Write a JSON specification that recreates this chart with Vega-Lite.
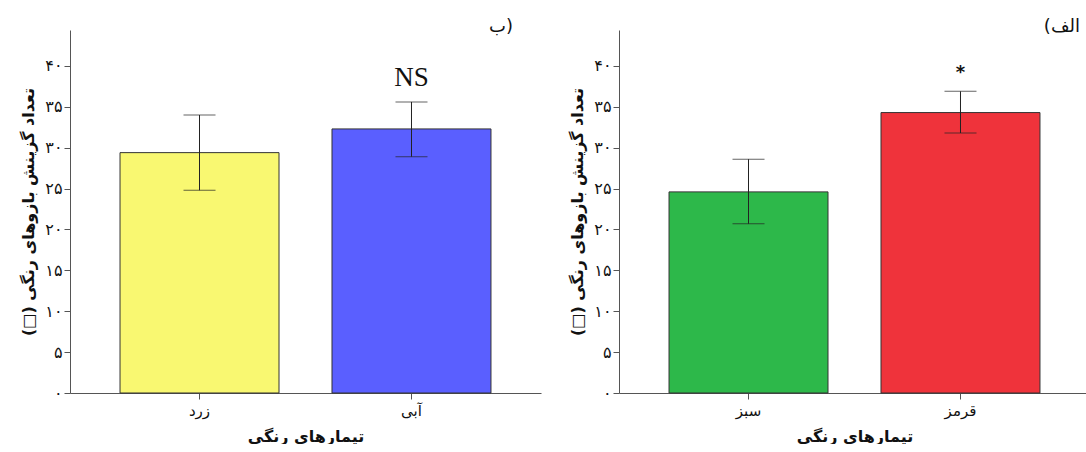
{
  "$schema": "https://vega.github.io/schema/vega-lite/v6.json",
  "background": "white",
  "padding": {"left": 20, "top": 18, "right": 0, "bottom": 0},
  "spacing": 28,
  "datasets": {
    "b": [
      {"cat": "زرد", "mean": 29.4, "lo": 24.8, "hi": 34.0, "color": "#F9F871", "ann": ""},
      {"cat": "آبی", "mean": 32.3, "lo": 28.9, "hi": 35.6, "color": "#5A5FFF", "ann": "NS"}
    ],
    "a": [
      {"cat": "سبز", "mean": 24.6, "lo": 20.7, "hi": 28.6, "color": "#2DB84A", "ann": ""},
      {"cat": "قرمز", "mean": 34.3, "lo": 31.8, "hi": 36.9, "color": "#EF333B", "ann": "*"}
    ]
  },
  "config": {
    "view": {"stroke": null},
    "font": "DejaVu Sans",
    "axis": {
      "domainColor": "#555",
      "tickColor": "#555",
      "labelColor": "#111",
      "titleColor": "#111",
      "grid": false,
      "labelFont": "DejaVu Sans",
      "titleFont": "DejaVu Sans"
    },
    "title": {"font": "DejaVu Sans", "fontSize": 18, "fontWeight": "normal", "color": "#111"}
  },
  "hconcat": [
    {
      "width": 471,
      "height": 363,
      "data": {"name": "b"},
      "title": {"text": "ب)", "anchor": "end", "dx": -28, "offset": -6},
      "encoding": {
        "x": {
          "field": "cat", "type": "nominal", "sort": ["زرد", "آبی"],
          "scale": {"paddingInner": 0.25, "paddingOuter": 0.236},
          "axis": {"title": "تیمارهای رنگی", "labelAngle": 0, "labelFontSize": 15, "titleFontSize": 16, "titleFontWeight": "bold", "tickSize": 6, "labelPadding": 4, "titlePadding": 10}
        }
      },
      "layer": [
        {
          "mark": {"type": "bar", "stroke": "#333", "strokeWidth": 1},
          "encoding": {
            "y": {
              "field": "mean", "type": "quantitative",
              "scale": {"domain": [0, 44.4], "nice": false},
              "axis": {
                "title": "(□) تعداد گزینش بازوهای رنگی",
                "values": [0, 5, 10, 15, 20, 25, 30, 35, 40],
                "labelExpr": "datum.value==0?'۰':datum.value==5?'۵':datum.value==10?'۱۰':datum.value==15?'۱۵':datum.value==20?'۲۰':datum.value==25?'۲۵':datum.value==30?'۳۰':datum.value==35?'۳۵':'۴۰'",
                "labelFontSize": 16, "titleFontSize": 16, "titleFontWeight": "bold", "tickSize": 6, "labelPadding": 2, "titlePadding": 8
              }
            },
            "color": {"field": "color", "type": "nominal", "scale": null}
          }
        },
        {
          "mark": {"type": "rule", "color": "#222", "strokeWidth": 1},
          "encoding": {"y": {"field": "lo", "type": "quantitative"}, "y2": {"field": "hi"}}
        },
        {
          "mark": {"type": "tick", "color": "#222", "size": 32, "thickness": 1},
          "encoding": {"y": {"field": "hi", "type": "quantitative"}}
        },
        {
          "mark": {"type": "tick", "color": "#222", "size": 32, "thickness": 1},
          "encoding": {"y": {"field": "lo", "type": "quantitative"}}
        },
        {
          "mark": {"type": "text", "font": "Liberation Serif", "fontSize": 27, "baseline": "middle", "dy": -24, "color": "#111"},
          "encoding": {"y": {"field": "hi", "type": "quantitative"}, "text": {"field": "ann"}}
        }
      ]
    },
    {
      "width": 471,
      "height": 363,
      "data": {"name": "a"},
      "title": {"text": "(الف", "anchor": "end", "dx": -10, "offset": -6},
      "encoding": {
        "x": {
          "field": "cat", "type": "nominal", "sort": ["سبز", "قرمز"],
          "scale": {"paddingInner": 0.25, "paddingOuter": 0.236},
          "axis": {"title": "تیمارهای رنگی", "labelAngle": 0, "labelFontSize": 15, "titleFontSize": 16, "titleFontWeight": "bold", "tickSize": 6, "labelPadding": 4, "titlePadding": 10}
        }
      },
      "layer": [
        {
          "mark": {"type": "bar", "stroke": "#333", "strokeWidth": 1},
          "encoding": {
            "y": {
              "field": "mean", "type": "quantitative",
              "scale": {"domain": [0, 44.4], "nice": false},
              "axis": {
                "title": "(□) تعداد گزینش بازوهای رنگی",
                "values": [0, 5, 10, 15, 20, 25, 30, 35, 40],
                "labelExpr": "datum.value==0?'۰':datum.value==5?'۵':datum.value==10?'۱۰':datum.value==15?'۱۵':datum.value==20?'۲۰':datum.value==25?'۲۵':datum.value==30?'۳۰':datum.value==35?'۳۵':'۴۰'",
                "labelFontSize": 16, "titleFontSize": 16, "titleFontWeight": "bold", "tickSize": 6, "labelPadding": 2, "titlePadding": 8
              }
            },
            "color": {"field": "color", "type": "nominal", "scale": null}
          }
        },
        {
          "mark": {"type": "rule", "color": "#222", "strokeWidth": 1},
          "encoding": {"y": {"field": "lo", "type": "quantitative"}, "y2": {"field": "hi"}}
        },
        {
          "mark": {"type": "tick", "color": "#222", "size": 32, "thickness": 1},
          "encoding": {"y": {"field": "hi", "type": "quantitative"}}
        },
        {
          "mark": {"type": "tick", "color": "#222", "size": 32, "thickness": 1},
          "encoding": {"y": {"field": "lo", "type": "quantitative"}}
        },
        {
          "mark": {"type": "text", "font": "DejaVu Sans", "fontSize": 18, "fontWeight": "bold", "baseline": "middle", "dy": -18, "color": "#111"},
          "encoding": {"y": {"field": "hi", "type": "quantitative"}, "text": {"field": "ann"}}
        }
      ]
    }
  ]
}
